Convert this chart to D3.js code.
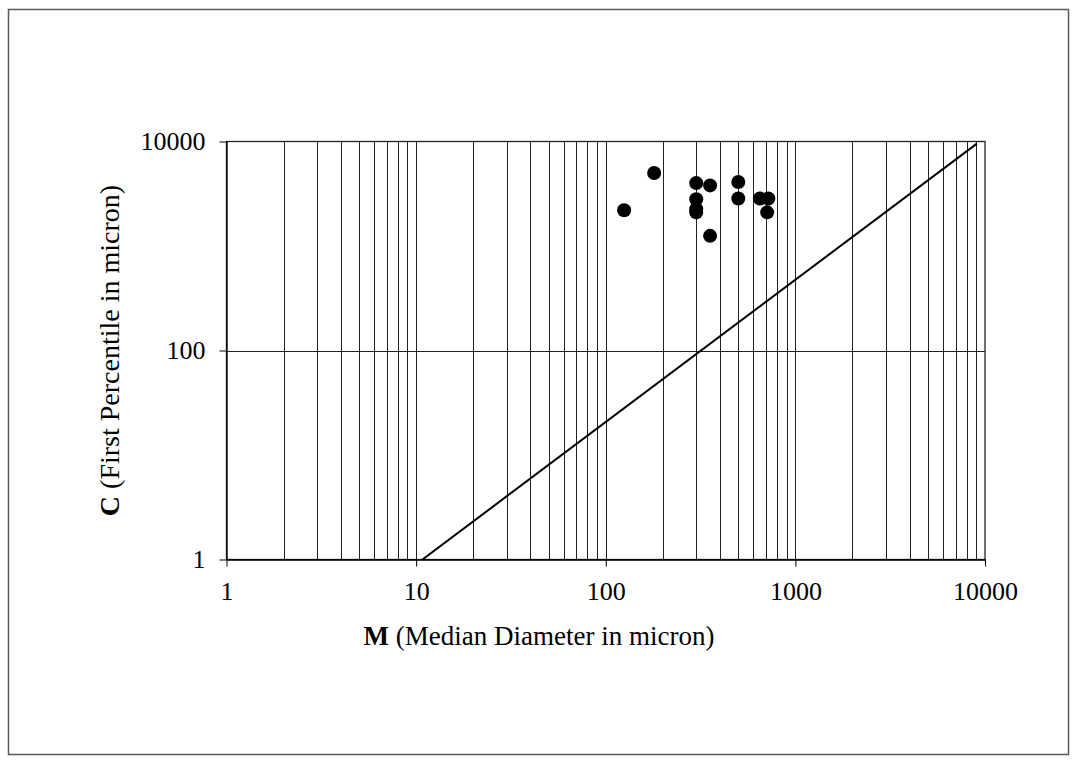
<!DOCTYPE html>
<html>
<head>
<meta charset="utf-8">
<script src="https://cdn.jsdelivr.net/npm/d3@7/dist/d3.min.js"></script>
<style>
  html, body { margin: 0; padding: 0; background: #fff; }
  svg { display: block; }
  text { font-family: "Liberation Serif", "Times New Roman", serif; fill: #000; }
</style>
</head>
<body>
<svg id="chart" width="1077" height="764"></svg>
<script>
// Median diameter M (micron) and first percentile C (micron) of the samples
const medianDiameter  = [180, 125, 300, 355, 500, 300, 300, 300, 500, 650, 720, 710, 355];
const firstPercentile = [5000, 2200, 4000, 3800, 4100, 2800, 2250, 2100, 2850, 2850, 2850, 2100, 1250];

// Reference line C–M
const lineM = [10.8, 9060];
const lineC = [1, 9550];

const xTicks = [1, 10, 100, 1000, 10000];
const yTicks = [1, 100, 10000];
const yGrid = [100];

const svg = d3.select("#chart");

// outer chart border
svg.append("rect")
  .attr("x", 8.5).attr("y", 9.5)
  .attr("width", 1060).attr("height", 745)
  .attr("fill", "none").attr("stroke", "#5a5a5a").attr("stroke-width", 1.5);

const x = d3.scaleLog().domain([1, 10000]).range([226.5, 985]);
const y = d3.scaleLog().domain([1, 10000]).range([559.5, 141.5]);

const plot = svg.append("g");

// vertical gridlines at every log step
const xGrid = [];
for (let d = 1; d < 10000; d *= 10) {
  for (let k = 2; k <= 10; k++) xGrid.push(d * k);
}
plot.selectAll("line.vgrid").data(xGrid.filter(v => v < 10000)).join("line")
  .attr("class", "vgrid")
  .attr("x1", d => Math.round(x(d)) + 0.5).attr("x2", d => Math.round(x(d)) + 0.5)
  .attr("y1", y(1)).attr("y2", y(10000))
  .attr("stroke", "#222").attr("stroke-width", 1);

plot.selectAll("line.hgrid").data(yGrid).join("line")
  .attr("class", "hgrid")
  .attr("x1", x(1)).attr("x2", x(10000))
  .attr("y1", d => Math.round(y(d)) + 0.5).attr("y2", d => Math.round(y(d)) + 0.5)
  .attr("stroke", "#222").attr("stroke-width", 1);

// plot frame
plot.append("rect")
  .attr("x", x(1)).attr("y", y(10000))
  .attr("width", x(10000) - x(1)).attr("height", y(1) - y(10000))
  .attr("fill", "none").attr("stroke", "#222").attr("stroke-width", 1.3);

// axes
const xAxis = d3.axisBottom(x).tickValues(xTicks).tickFormat(d3.format("d"))
  .tickSizeInner(7).tickSizeOuter(0).tickPadding(15);
const gx = svg.append("g").attr("transform", `translate(0,${y(1)})`).call(xAxis);
gx.select(".domain").attr("stroke", "#000").attr("stroke-width", 1.3);
gx.selectAll(".tick line").attr("stroke", "#000");
gx.selectAll(".tick text").attr("font-size", 26).attr("font-family", "Liberation Serif");

const yAxis = d3.axisLeft(y).tickValues(yTicks).tickFormat(d3.format("d"))
  .tickSizeInner(7).tickSizeOuter(0).tickPadding(14);
const gy = svg.append("g").attr("transform", `translate(${x(1)},0)`).call(yAxis);
gy.select(".domain").attr("stroke", "#000").attr("stroke-width", 1.3);
gy.selectAll(".tick line").attr("stroke", "#000");
gy.selectAll(".tick text").attr("font-size", 26).attr("font-family", "Liberation Serif");

// reference line
svg.append("line")
  .attr("x1", x(lineM[0])).attr("y1", y(lineC[0]))
  .attr("x2", x(lineM[1])).attr("y2", y(lineC[1]))
  .attr("stroke", "#000").attr("stroke-width", 2);

// sample points
const pts = medianDiameter.map((m, i) => ({ m, c: firstPercentile[i] }));
svg.selectAll("circle.pt").data(pts).join("circle")
  .attr("class", "pt")
  .attr("cx", d => x(d.m)).attr("cy", d => y(d.c))
  .attr("r", 7).attr("fill", "#000");

// axis titles
const xt = svg.append("text")
  .attr("x", 539).attr("y", 645)
  .attr("text-anchor", "middle").attr("font-size", 27);
xt.append("tspan").attr("font-weight", "bold").text("M");
xt.append("tspan").text(" (Median Diameter in micron)");

const yt = svg.append("text")
  .attr("transform", `translate(119,${(y(1) + y(10000)) / 2}) rotate(-90)`)
  .attr("text-anchor", "middle").attr("font-size", 28);
yt.append("tspan").attr("font-weight", "bold").text("C");
yt.append("tspan").text(" (First Percentile in micron)");
</script>
</body>
</html>
